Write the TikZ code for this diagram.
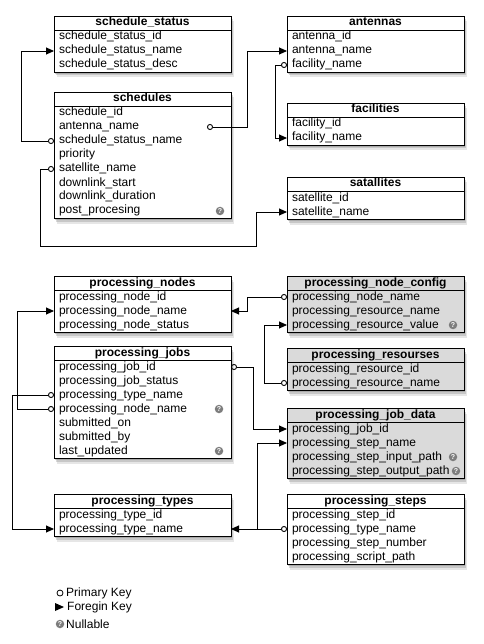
\documentclass[tikz,border=0pt]{standalone}
\usepackage{fontspec}
\setmainfont{Liberation Sans}
\usetikzlibrary{arrows.meta,positioning,shadows}
\definecolor{tblgrey}{RGB}{218,218,218}
\definecolor{nullgrey}{RGB}{125,125,125}

\begin{document}
\begin{tikzpicture}[
  x=1pt, y=-1pt,
  font=\fontsize{12}{14}\selectfont,
  tbl/.style={draw, fill=white, anchor=north west, inner sep=0pt, outer sep=0pt,
              minimum width=177pt, line width=.8pt,
              drop shadow={shadow xshift=3pt, shadow yshift=-5.5pt, opacity=.2},
              drop shadow={shadow xshift=2pt, shadow yshift=-3.5pt, opacity=.3},
              drop shadow={shadow xshift=1pt, shadow yshift=-2pt, opacity=.4}},
  grey/.style={fill=tblgrey},
  hdr/.style={draw, anchor=north west, inner sep=0pt, outer sep=0pt, line width=.8pt,
              minimum width=177pt, minimum height=14pt, text height=9pt, text depth=3pt,
              font=\bfseries\fontsize{12}{14}\selectfont},
  fld/.style={anchor=north west, inner xsep=5pt, inner ysep=0pt, outer sep=0pt,
              text width=167pt, minimum height=14pt, text height=9pt, text depth=3pt,
              align=left},
  nul/.style={circle, fill=nullgrey, text=white, inner sep=0pt, minimum size=8.5pt,
              font=\bfseries\fontsize{7}{7}\selectfont},
  link/.style={{Circle[open,length=6pt,width=6pt]}-{Triangle[length=8pt,width=7pt]},
               line width=.9pt},
  fk/.style={-{Triangle[length=8pt,width=7pt]}, line width=.9pt},
  legend/.style={anchor=west, inner sep=0pt}
]
  \useasboundingbox (0,0) rectangle (483,644);

  % schedules part
  \node[tbl, minimum height=56] (ss) at (54,16) {};
  \node[hdr] (ss-t) at (ss.north west) {schedule\_status};
  \node[fld] (ss-id) at (ss-t.south west) {schedule\_status\_id};
  \node[fld] (ss-name) at (ss-id.south west) {schedule\_status\_name};
  \node[fld] (ss-desc) at (ss-name.south west) {schedule\_status\_desc};

  \node[tbl, minimum height=126] (sch) at (54,92) {};
  \node[hdr] (sch-t) at (sch.north west) {schedules};
  \node[fld] (sch-id) at (sch-t.south west) {schedule\_id};
  \node[fld] (sch-ant) at (sch-id.south west) {antenna\_name};
  \node[fld] (sch-stat) at (sch-ant.south west) {schedule\_status\_name};
  \node[fld] (sch-prio) at (sch-stat.south west) {priority};
  \node[fld] (sch-sat) at (sch-prio.south west) {satellite\_name};
  \node[fld] (sch-start) at (sch-sat.south west) {downlink\_start};
  \node[fld] (sch-dur) at (sch-start.south west) {downlink\_duration};
  \node[fld] (sch-post) at (sch-dur.south west) {post\_procesing};
  \node[nul] (sch-post-n) at ([xshift=-11]sch-post.east) {?};

  \node[tbl, minimum height=56] (ant) at (287,16) {};
  \node[hdr] (ant-t) at (ant.north west) {antennas};
  \node[fld] (ant-id) at (ant-t.south west) {antenna\_id};
  \node[fld] (ant-name) at (ant-id.south west) {antenna\_name};
  \node[fld] (ant-fac) at (ant-name.south west) {facility\_name};

  \node[tbl, minimum height=42] (fac) at (287,103) {};
  \node[hdr] (fac-t) at (fac.north west) {facilities};
  \node[fld] (fac-id) at (fac-t.south west) {facility\_id};
  \node[fld] (fac-name) at (fac-id.south west) {facility\_name};

  \node[tbl, minimum height=42] (sat) at (287,177) {};
  \node[hdr] (sat-t) at (sat.north west) {satallites};
  \node[fld] (sat-id) at (sat-t.south west) {satellite\_id};
  \node[fld] (sat-name) at (sat-id.south west) {satellite\_name};

  % processing part
  \node[tbl, minimum height=56] (pn) at (54,276) {};
  \node[hdr] (pn-t) at (pn.north west) {processing\_nodes};
  \node[fld] (pn-id) at (pn-t.south west) {processing\_node\_id};
  \node[fld] (pn-name) at (pn-id.south west) {processing\_node\_name};
  \node[fld] (pn-status) at (pn-name.south west) {processing\_node\_status};

  \node[tbl, minimum height=112] (pj) at (54,346) {};
  \node[hdr] (pj-t) at (pj.north west) {processing\_jobs};
  \node[fld] (pj-id) at (pj-t.south west) {processing\_job\_id};
  \node[fld] (pj-status) at (pj-id.south west) {processing\_job\_status};
  \node[fld] (pj-type) at (pj-status.south west) {processing\_type\_name};
  \node[fld] (pj-node) at (pj-type.south west) {processing\_node\_name};
  \node[fld] (pj-on) at (pj-node.south west) {submitted\_on};
  \node[fld] (pj-by) at (pj-on.south west) {submitted\_by};
  \node[fld] (pj-upd) at (pj-by.south west) {last\_updated};
  \node[nul] (pj-node-n) at ([xshift=-12]pj-node.east) {?};
  \node[nul] (pj-upd-n) at ([xshift=-12]pj-upd.east) {?};

  \node[tbl, grey, minimum height=56] (pnc) at (287,276) {};
  \node[hdr, grey] (pnc-t) at (pnc.north west) {processing\_node\_config};
  \node[fld] (pnc-node) at (pnc-t.south west) {processing\_node\_name};
  \node[fld] (pnc-res) at (pnc-node.south west) {processing\_resource\_name};
  \node[fld] (pnc-val) at (pnc-res.south west) {processing\_resource\_value};
  \node[nul] (pnc-val-n) at ([xshift=-11]pnc-val.east) {?};

  \node[tbl, grey, minimum height=42] (pr) at (287,348) {};
  \node[hdr, grey] (pr-t) at (pr.north west) {processing\_resourses};
  \node[fld] (pr-id) at (pr-t.south west) {processing\_resource\_id};
  \node[fld] (pr-name) at (pr-id.south west) {processing\_resource\_name};

  \node[tbl, grey, minimum height=70] (pjd) at (287,408) {};
  \node[hdr, grey] (pjd-t) at (pjd.north west) {processing\_job\_data};
  \node[fld] (pjd-job) at (pjd-t.south west) {processing\_job\_id};
  \node[fld] (pjd-step) at (pjd-job.south west) {processing\_step\_name};
  \node[fld] (pjd-in) at (pjd-step.south west) {processing\_step\_input\_path};
  \node[fld] (pjd-out) at (pjd-in.south west) {processing\_step\_output\_path};
  \node[nul] (pjd-in-n) at ([xshift=-11]pjd-in.east) {?};
  \node[nul] (pjd-out-n) at ([xshift=-8]pjd-out.east) {?};

  \node[tbl, minimum height=42] (pt) at (54,494) {};
  \node[hdr] (pt-t) at (pt.north west) {processing\_types};
  \node[fld] (pt-id) at (pt-t.south west) {processing\_type\_id};
  \node[fld] (pt-name) at (pt-id.south west) {processing\_type\_name};

  \node[tbl, minimum height=70] (ps) at (287,494) {};
  \node[hdr] (ps-t) at (ps.north west) {processing\_steps};
  \node[fld] (ps-id) at (ps-t.south west) {processing\_step\_id};
  \node[fld] (ps-type) at (ps-id.south west) {processing\_type\_name};
  \node[fld] (ps-num) at (ps-type.south west) {processing\_step\_number};
  \node[fld] (ps-script) at (ps-num.south west) {processing\_script\_path};

  % keys
  \draw[link] (sch-stat.west) -- ++(-33,0) |- (ss-name.west);
  \draw[link] ([xshift=-24]sch-ant.east) -- ++(40,0) |- (ant-name.west);
  \draw[link] (ant-fac.west) -- ++(-12,0) |- (fac-name.west);
  \draw[link] (sch-sat.west) -- ++(-14,0) -- ++(0,77) -- ++(216,0) |- (sat-name.west);
  \draw[link] (pnc-node.west) -- ++(-40,0) |- (pn-name.east);
  \draw[link] (pr-name.west) -- ++(-23,0) |- (pnc-val.west);
  \draw[link] (pj-id.east) -- ++(22,0) |- (pjd-job.west);
  \draw[link] (pj-node.west) -- ++(-37,0) |- (pn-name.west);
  \draw[link] (pj-type.west) -- ++(-42,0) |- (pt-name.west);
  \draw[link] (ps-type.west) -- (pt-name.east);
  \draw[fk] ([xshift=-30]ps-type.west) |- (pjd-step.west);

  % legend
  \node[draw, circle, inner sep=0pt, minimum size=6pt, line width=.8pt] (lg-pk) at (60,593) {};
  \node[legend] (lg-pk-t) at (66,593) {Primary Key};
  \fill (55,603) -- (64,607) -- (55,611) -- cycle;
  \node[legend] (lg-fk-t) at (67,607) {Foregin Key};
  \node[nul] (lg-nul) at (60,624) {?};
  \node[legend] (lg-nul-t) at (66,624) {Nullable};
\end{tikzpicture}
\end{document}
